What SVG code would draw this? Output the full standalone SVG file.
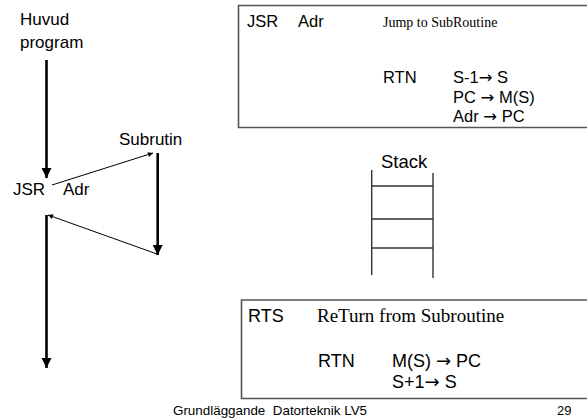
<svg xmlns="http://www.w3.org/2000/svg" width="587" height="419" viewBox="0 0 587 419">
<defs>
<style>
.sans{font-family:"Liberation Sans",Arial,sans-serif;fill:#000}
.serif{font-family:"Liberation Serif","Times New Roman",serif;fill:#000}
.arr{font-family:"DejaVu Sans",sans-serif}
.thick{stroke:#000;stroke-width:2.6;fill:none}
.thin{stroke:#000;stroke-width:1;fill:none}
.box{stroke:#555;stroke-width:1.6;fill:none}
.stk{stroke:#333;stroke-width:1.4;fill:none}
</style>
<marker id="big" viewBox="0 0 10 10" refX="10" refY="5" markerWidth="10" markerHeight="13" markerUnits="userSpaceOnUse" orient="auto">
<path d="M0,0 L10,5 L0,10 z" fill="#000"/>
</marker>
<marker id="small" viewBox="0 0 10 10" refX="10" refY="5" markerWidth="7" markerHeight="5" markerUnits="userSpaceOnUse" orient="auto">
<path d="M0,0 L10,5 L0,10 z" fill="#000"/>
</marker>
</defs>
<rect width="587" height="419" fill="#fff"/>

<g id="huvud"><text class="sans" font-size="17" x="20" y="25">Huvud</text><text class="sans" font-size="17" x="20" y="48">program</text></g>
<g id="jsr"><text class="sans" font-size="17" x="13" y="195">JSR</text><text class="sans" font-size="17" x="63" y="195">Adr</text></g>
<g id="subrutin"><text class="sans" font-size="17" x="119" y="145">Subrutin</text></g>

<g id="connectors">
<line class="thick" x1="46.5" y1="60" x2="46.5" y2="178" marker-end="url(#big)"/>
<line class="thick" x1="157.7" y1="153" x2="157.7" y2="255" marker-end="url(#big)"/>
<line class="thick" x1="46.5" y1="215" x2="46.5" y2="368" marker-end="url(#big)"/>
<line class="thin" x1="52" y1="185" x2="153" y2="153" marker-end="url(#small)"/>
<line class="thin" x1="157" y1="254" x2="48" y2="215" marker-end="url(#small)"/>
</g>

<g id="jsr-box">
<path class="box" d="M590,5.5 H238.5 V127.5 H590"/>
<text class="sans" font-size="16.5" x="247" y="27">JSR</text>
<text class="sans" font-size="16.5" x="298" y="27">Adr</text>
<text class="serif" font-size="14" x="383" y="27">Jump to SubRoutine</text>
<text class="sans" font-size="16.5" x="383" y="83">RTN</text>
<text class="sans" font-size="16.5" x="453" y="83">S-1<tspan class="arr">→</tspan> S</text>
<text class="sans" font-size="16.5" x="453" y="103">PC <tspan class="arr">→</tspan> M(S)</text>
<text class="sans" font-size="16.5" x="453" y="122">Adr <tspan class="arr">→</tspan> PC</text>
</g>

<g id="stack">
<text class="sans" font-size="18.5" x="381" y="168">Stack</text>
<line class="stk" x1="371.7" y1="170" x2="371.7" y2="275"/>
<line class="stk" x1="433" y1="173" x2="433" y2="278"/>
<line class="stk" x1="371.7" y1="186" x2="433" y2="186"/>
<line class="stk" x1="371.7" y1="219" x2="433" y2="219"/>
<line class="stk" x1="371.7" y1="248" x2="433" y2="248"/>
</g>

<g id="rts-box">
<path class="box" d="M590,300 H241.5 V398.5 H590"/>
<text class="sans" font-size="18" x="248" y="322">RTS</text>
<text class="serif" font-size="19" x="317" y="322">ReTurn from Subroutine</text>
<text class="sans" font-size="18" x="318" y="367">RTN</text>
<text class="sans" font-size="18" x="392" y="367">M(S) <tspan class="arr">→</tspan> PC</text>
<text class="sans" font-size="18" x="392" y="388">S+1<tspan class="arr">→</tspan> S</text>
</g>

<g id="footer">
<text class="sans" font-size="13.4" x="173" y="415" xml:space="preserve">Grundläggande  Datorteknik LV5</text>
<text class="sans" font-size="13" x="557" y="415">29</text>
</g>
</svg>
